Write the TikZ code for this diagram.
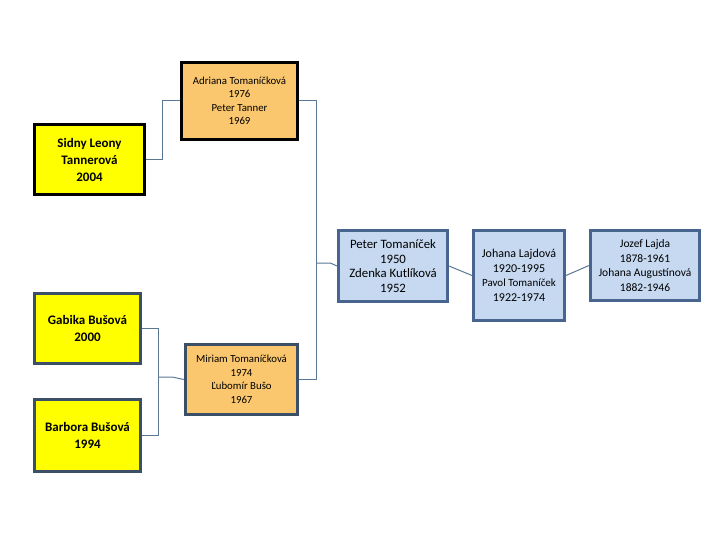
\documentclass[tikz,border=0pt]{standalone}
\usepackage{fontspec}
\setmainfont{Carlito}
\definecolor{kidyellow}{HTML}{FFFF00}
\definecolor{parentorange}{HTML}{FBC76E}
\definecolor{elderblue}{HTML}{C6D9F1}
\definecolor{elderline}{HTML}{48658F}
\definecolor{slateline}{HTML}{3B4F66}
\definecolor{linkgray}{HTML}{5A7894}

\begin{document}
\begin{tikzpicture}[x=1pt, y=1pt]
    \tikzset{
      kid/.style={
        rectangle, draw=black, line width=3.5pt, fill=kidyellow,
        align=center, font=\fontsize{13}{17}\selectfont\bfseries
      },
      parent/.style={
        rectangle, draw=black, line width=3.5pt, fill=parentorange,
        align=center, font=\fontsize{10.8}{13.5}\selectfont
      },
      elder/.style={
        rectangle, draw=elderline, line width=3pt, fill=elderblue,
        align=center, font=\fontsize{12}{14.5}\selectfont
      },
      link/.style={draw=linkgray, line width=1pt}
    }
    \useasboundingbox (0,0) rectangle (720,-540);

    % Upper branch
    \node[kid, minimum width=110, minimum height=70] (sidny) at (89.5,-159.5) {Sidny Leony\\Tannerová\\2004};
    \node[parent, minimum width=116, minimum height=77] (adriana) at (239.5,-101) {Adriana Tomaníčková\\1976\\Peter Tanner\\1969};

    % Lower branch
    \node[kid, draw=slateline, minimum width=106, minimum height=70] (gabika) at (87.5,-328.5) {Gabika Bušová\\2000};
    \node[kid, draw=slateline, minimum width=106, minimum height=72] (barbora) at (87.5,-435.5) {Barbora Bušová\\1994};
    \node[parent, draw=slateline, minimum width=112, minimum height=70] (miriam) at (241.5,-379.5) {Miriam Tomaníčková\\1974\\Ľubomír Bušo\\1967};

    % Elders
    \node[elder, font=\fontsize{12.8}{14.5}\selectfont, minimum width=109, minimum height=71] (peter) at (393,-266) {Peter Tomaníček\\1950\\Zdenka Kutlíková\\1952};
    \node[elder, minimum width=91, minimum height=90] (johana) at (519,-275.5) {Johana Lajdová\\1920-1995\\{\fontsize{11}{14.5}\selectfont Pavol Tomaníček}\\1922-1974};
    \node[elder, font=\fontsize{11.5}{14.5}\selectfont, minimum width=109, minimum height=70] (jozef) at (645,-265.5) {Jozef Lajda\\1878-1961\\Johana Augustínová\\1882-1946};

    % Connectors
    \draw[link] (sidny.east) -- ++(16,0) |- (adriana.west);
    \draw[link] (adriana.east) -- ++(17,0) coordinate (trunk) |- (miriam.east);
    \coordinate (tap) at (trunk |- 0,-263);
    \draw[link] (tap) -- ++(14,0) -- (peter.west);
    \draw[link] (gabika.east) -- ++(16,0) coordinate (fork) |- (barbora.east);
    \draw[link] (fork |- 0,-377) -- ++(14,0) -- (miriam.west);
    \draw[link] (peter.east) -- (johana.west);
    \draw[link] (johana.east) -- (jozef.west);
  \end{tikzpicture}
\end{document}
